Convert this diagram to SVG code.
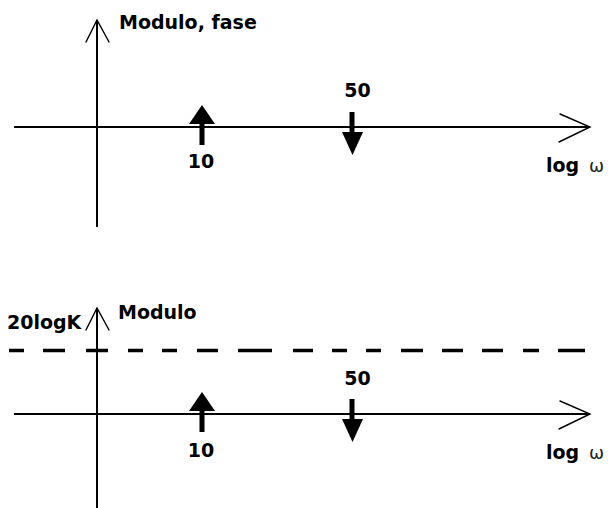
<svg xmlns="http://www.w3.org/2000/svg" width="615" height="508" viewBox="0 0 615 508">
  <style>
    .axis { stroke: #000; stroke-width: 2; fill: none; }
    .head { stroke: #000; stroke-width: 1.4; fill: none; stroke-linecap: round; }
    .dash { stroke: #000; stroke-width: 3.5; }
    .lbl { font-family: "DejaVu Sans", "Liberation Sans", sans-serif; font-weight: bold; font-size: 19px; fill: #000; }
    .omega { font-family: "DejaVu Sans", "Liberation Sans", sans-serif; font-size: 18px; fill: #222; }
    .pole { fill: #000; }
  </style>
  <defs>
    <!-- upward impulse (zero) -->
    <g id="up-arrow">
      <polygon class="pole" points="202,105 215,124 189,124"/>
      <rect class="pole" x="199.5" y="119" width="5" height="26"/>
    </g>
    <!-- downward impulse (pole) -->
    <g id="down-arrow">
      <rect class="pole" x="349.5" y="112" width="5" height="24"/>
      <polygon class="pole" points="342,132 363,132 352.5,155"/>
    </g>
  </defs>

  <!-- top plot: modulo and phase -->
  <g id="plot-top">
    <g id="top-axes">
      <line class="axis" x1="97" y1="20" x2="97" y2="227"/>
      <polyline class="head" points="86,42 97,20 109,42"/>
      <line class="axis" x1="14" y1="127" x2="590" y2="127"/>
      <polyline class="head" points="560,114 590,127 559,142"/>
    </g>
    <g id="top-zero-10">
      <use href="#up-arrow"/>
      <text class="lbl" x="201" y="168" text-anchor="middle">10</text>
    </g>
    <g id="top-pole-50">
      <use href="#down-arrow"/>
      <text class="lbl" x="357.5" y="97" text-anchor="middle">50</text>
    </g>
    <text class="lbl" x="119" y="29">Modulo, fase</text>
    <text class="lbl" x="546" y="172">log</text>
    <text class="omega" x="589" y="172">ω</text>
  </g>

  <!-- bottom plot: modulo with constant gain level -->
  <g id="plot-bottom">
    <g id="bottom-axes">
      <line class="axis" x1="97" y1="308" x2="97" y2="508"/>
      <polyline class="head" points="86,330 97,308 109,330"/>
      <line class="axis" x1="14" y1="414" x2="590" y2="414"/>
      <polyline class="head" points="560,401 590,414 559,429"/>
    </g>
    <g id="gain-level">
      <path class="dash" d="M9 350.5H24M43 350.5H65M86 350.5H108M128 350.5H143M162 350.5H177M197 350.5H218M238 350.5H272M293 350.5H313M332 350.5H347M366 350.5H381M401 350.5H423M442 350.5H463M482 350.5H503M523 350.5H539M558 350.5H585"/>
    </g>
    <g id="bottom-zero-10" transform="translate(0,287)">
      <use href="#up-arrow"/>
      <text class="lbl" x="201" y="170" text-anchor="middle">10</text>
    </g>
    <g id="bottom-pole-50" transform="translate(0,287)">
      <use href="#down-arrow"/>
      <text class="lbl" x="357.5" y="98" text-anchor="middle">50</text>
    </g>
    <text class="lbl" x="7" y="329">20logK</text>
    <text class="lbl" x="118" y="319">Modulo</text>
    <text class="lbl" x="546" y="459">log</text>
    <text class="omega" x="589" y="459">ω</text>
  </g>
</svg>
